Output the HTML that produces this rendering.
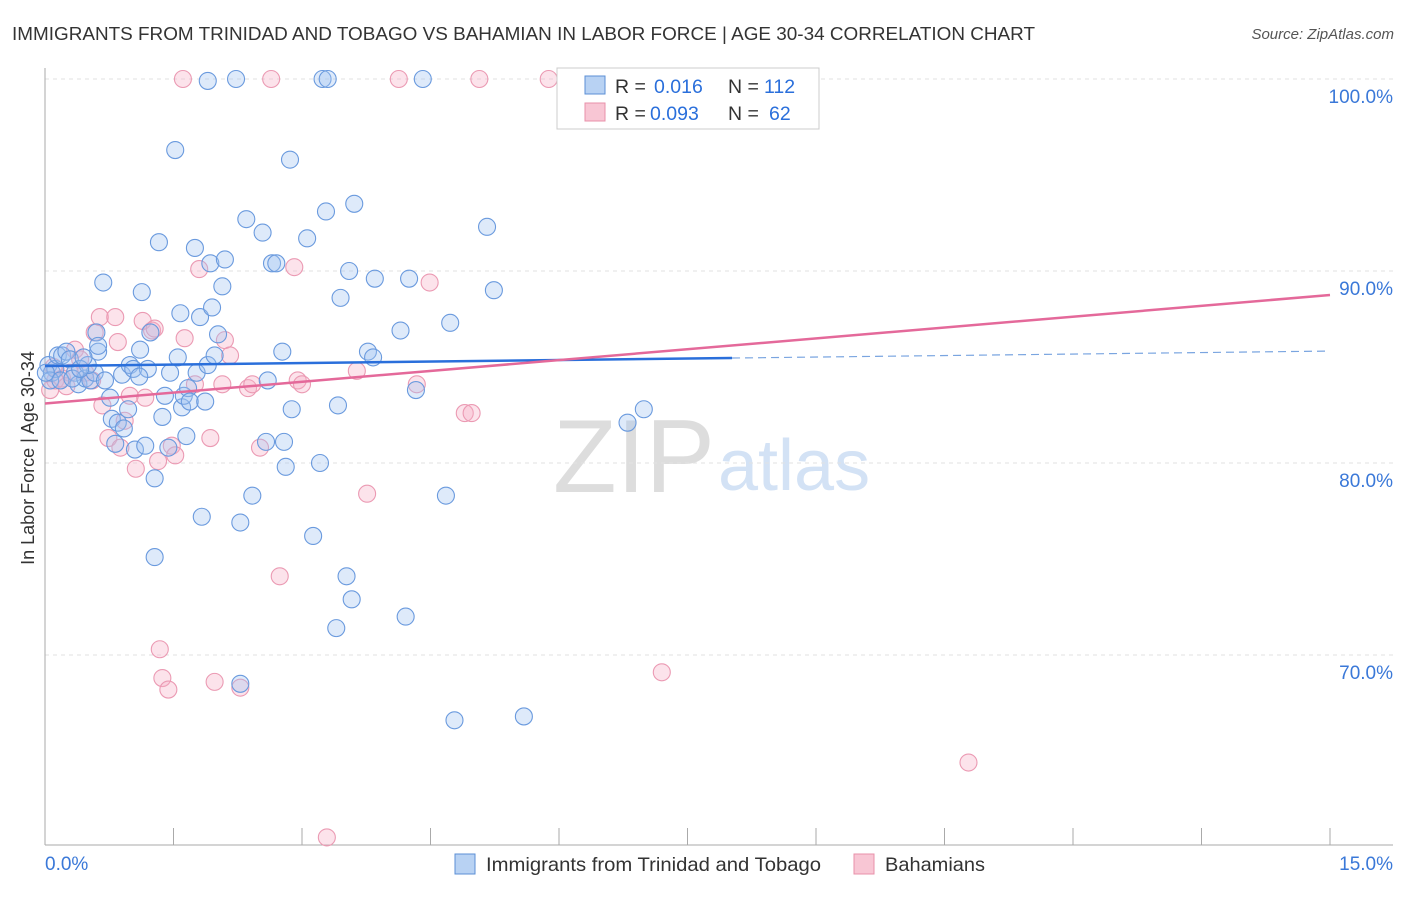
<!DOCTYPE html>
<html><head><meta charset="utf-8"><style>
body{margin:0;background:#fff;font-family:"Liberation Sans",sans-serif;}
svg text{font-family:"Liberation Sans",sans-serif;}
</style></head><body>
<svg id="chart" width="1406" height="892" xmlns="http://www.w3.org/2000/svg">
<text x="12" y="40" font-size="18.5" fill="#333" textLength="1023" lengthAdjust="spacingAndGlyphs">IMMIGRANTS FROM TRINIDAD AND TOBAGO VS BAHAMIAN IN LABOR FORCE | AGE 30-34 CORRELATION CHART</text>
<text x="1394" y="39" font-size="15" fill="#555" text-anchor="end" font-style="italic">Source: ZipAtlas.com</text>
<text x="34" y="458" font-size="18" fill="#333" text-anchor="middle" transform="rotate(-90 34 458)">In Labor Force | Age 30-34</text>
<text x="553" y="492" font-size="104" fill="#ddd" font-family="Liberation Serif" textLength="162" lengthAdjust="spacingAndGlyphs">ZIP</text>
<text x="718" y="490" font-size="72" fill="#d3e2f5">atlas</text>
<g id="grid"></g><g id="axes"></g><g id="pts"></g><g id="lines"></g>
<g>
<rect x="557" y="68" width="262" height="61" fill="#fff" stroke="#ccc"/>
<rect x="585" y="76" width="20" height="18" fill="#b8d2f3" stroke="#5b8fd6"/>
<rect x="585" y="103" width="20" height="18" fill="#f8c6d4" stroke="#e890aa"/>
<text x="615" y="93" font-size="19.5" fill="#333">R =</text><text x="654" y="93" font-size="19.5" fill="#2a6fdb">0.016</text><text x="728" y="93" font-size="19.5" fill="#333">N =</text><text x="764" y="93" font-size="19.5" fill="#2a6fdb">112</text>
<text x="615" y="120" font-size="19.5" fill="#333">R =</text><text x="650" y="120" font-size="19.5" fill="#2a6fdb">0.093</text><text x="728" y="120" font-size="19.5" fill="#333">N =</text><text x="769" y="120" font-size="19.5" fill="#2a6fdb">62</text>
</g>
<g>
<rect x="455" y="854" width="20" height="20" fill="#b8d2f3" stroke="#5b8fd6"/>
<text x="486" y="871" font-size="19.5" fill="#333" textLength="335" lengthAdjust="spacingAndGlyphs">Immigrants from Trinidad and Tobago</text>
<rect x="854" y="854" width="20" height="20" fill="#f8c6d4" stroke="#e890aa"/>
<text x="885" y="871" font-size="19.5" fill="#333" textLength="100" lengthAdjust="spacingAndGlyphs">Bahamians</text>
</g>
</svg>
<script>
const xTicks=[0,15];
const yTicks=[100,90,80,70];
const blue=[[0.04,85.1],[0.08,84.7],[0.12,84.9],[0.06,84.3],[0.15,85.6],[0.20,85.6],[0.25,85.8],[0.29,85.4],[0.35,84.7],[0.39,84.1],[0.47,84.4],[0.53,84.3],[0.58,84.7],[0.62,85.8],[0.68,89.4],[0.70,84.3],[0.60,86.8],[0.62,86.1],[0.76,83.4],[0.78,82.3],[0.82,81.0],[0.85,82.1],[0.90,84.6],[0.92,81.8],[0.97,82.8],[0.99,85.1],[1.03,84.9],[1.05,80.7],[1.11,85.9],[1.13,88.9],[1.17,80.9],[1.20,84.9],[1.23,86.8],[1.28,79.2],[1.28,75.1],[1.33,91.5],[1.37,82.4],[1.40,83.5],[1.44,80.8],[1.46,84.7],[1.52,96.3],[1.55,85.5],[1.58,87.8],[1.60,82.9],[1.62,83.5],[1.65,81.4],[1.67,83.9],[1.69,83.2],[1.75,91.2],[1.77,84.7],[1.81,87.6],[1.83,77.2],[1.87,83.2],[1.90,85.1],[1.93,90.4],[1.95,88.1],[1.98,85.6],[2.02,86.7],[2.07,89.2],[2.10,90.6],[2.28,68.5],[2.28,76.9],[2.35,92.7],[2.42,78.3],[2.54,92.0],[2.58,81.1],[2.60,84.3],[2.65,90.4],[2.70,90.4],[2.77,85.8],[2.79,81.1],[2.81,79.8],[2.86,95.8],[2.88,82.8],[3.06,91.7],[3.13,76.2],[3.21,80.0],[3.24,100],[3.30,100],[3.28,93.1],[3.40,71.4],[3.42,83.0],[3.45,88.6],[3.52,74.1],[3.55,90.0],[3.58,72.9],[3.61,93.5],[3.77,85.8],[3.83,85.5],[3.85,89.6],[4.15,86.9],[4.21,72.0],[4.25,89.6],[4.33,83.8],[4.41,100],[4.68,78.3],[4.73,87.3],[4.78,66.6],[5.16,92.3],[5.24,89.0],[5.59,66.8],[6.80,82.1],[6.99,82.8],[2.23,100],[1.90,99.9],[0.01,84.7],[0.18,84.3],[0.32,84.4],[0.50,85.1],[0.41,84.9],[1.10,84.5],[0.45,85.5]];
const pink=[[1.61,100],[2.64,100],[4.13,100],[5.07,100],[5.88,100],[7.39,100],[6.13,100],[0.06,83.8],[0.12,84.3],[0.20,84.4],[0.29,84.7],[0.35,85.9],[0.41,85.4],[0.47,84.7],[0.55,84.3],[0.58,86.8],[0.64,87.6],[0.67,83.0],[0.74,81.3],[0.82,87.6],[0.85,86.3],[0.88,80.8],[0.93,82.2],[0.99,83.5],[1.06,79.7],[1.14,87.4],[1.17,83.4],[1.25,86.9],[1.28,87.0],[1.32,80.1],[1.34,70.3],[1.37,68.8],[1.44,68.2],[1.48,80.9],[1.52,80.4],[1.63,86.5],[1.75,84.1],[1.80,90.1],[1.93,81.3],[1.98,68.6],[2.07,84.1],[2.10,86.4],[2.16,85.6],[2.28,68.3],[2.37,83.9],[2.42,84.1],[2.51,80.8],[2.74,74.1],[2.91,90.2],[2.95,84.3],[3.00,84.1],[3.29,60.5],[3.64,84.8],[3.76,78.4],[4.34,84.1],[4.49,89.4],[4.90,82.6],[4.98,82.6],[7.20,69.1],[10.78,64.4],[0.10,85.0],[0.25,84.0]];
const blueTrend=[85.05,85.83];
const blueSolidEnd=8.02;
const pinkTrend=[83.1,88.75];
const X=v=>45+v/15*1285;
const Y=v=>79+(100-v)*19.2;
const NS='http://www.w3.org/2000/svg';
function mk(tag,attrs,parent){const e=document.createElementNS(NS,tag);for(const k in attrs)e.setAttribute(k,attrs[k]);document.getElementById(parent).appendChild(e);return e;}
yTicks.forEach(t=>{
 const l=mk('line',{x1:45,x2:1393,y1:Y(t),y2:Y(t),stroke:'#e2e2e2','stroke-dasharray':'4 4'},'grid');
 
 
 const tx=mk('text',{x:1393,y:Y(t)+24,'font-size':19,fill:'#3a78d8','text-anchor':'end'},'grid');
 tx.textContent=t.toFixed(1)+'%';
 
 
});
const ax=mk('line',{x1:45,x2:45,y1:68,y2:845,stroke:'#aaa'},'axes');


const bx=mk('line',{x1:45,x2:1393,y1:845,y2:845,stroke:'#aaa'},'axes');


for(let i=0;i<=10;i++){const t=mk('line',{x1:X(i*1.5),x2:X(i*1.5),y1:828,y2:845,stroke:'#aaa'},'axes');
 
 }
xTicks.forEach((t,i)=>{const tx=mk('text',{x:i==0?45:1393,y:870,'font-size':19,fill:'#3a78d8','text-anchor':i==0?'start':'end'},'axes');
 tx.textContent=t.toFixed(1)+'%';
 
 });
pink.forEach(p=>{const c=mk('circle',{cx:X(p[0]),cy:Y(p[1]),r:8.5,fill:'rgba(245,175,198,0.35)',stroke:'#eb9ab3','stroke-width':1.1},'pts');
 
 });
blue.forEach(p=>{const c=mk('circle',{cx:X(p[0]),cy:Y(p[1]),r:8.5,fill:'rgba(160,196,240,0.35)',stroke:'#6a9ade','stroke-width':1.1},'pts');
 
 });
const bY=x=>blueTrend[0]+(blueTrend[1]-blueTrend[0])*x/15;
const l1=mk('line',{x1:X(0),y1:Y(bY(0)),x2:X(blueSolidEnd),y2:Y(bY(blueSolidEnd)),stroke:'#2a6fdb','stroke-width':2.5},'lines');


const l2=mk('line',{x1:X(blueSolidEnd),y1:Y(bY(blueSolidEnd)),x2:X(15),y2:Y(bY(15)),stroke:'#7aa5e0','stroke-width':1.2,'stroke-dasharray':'8 5'},'lines');


const l3=mk('line',{x1:X(0),y1:Y(pinkTrend[0]),x2:X(15),y2:Y(pinkTrend[1]),stroke:'#e4699a','stroke-width':2.5},'lines');


</script>
</body></html>
